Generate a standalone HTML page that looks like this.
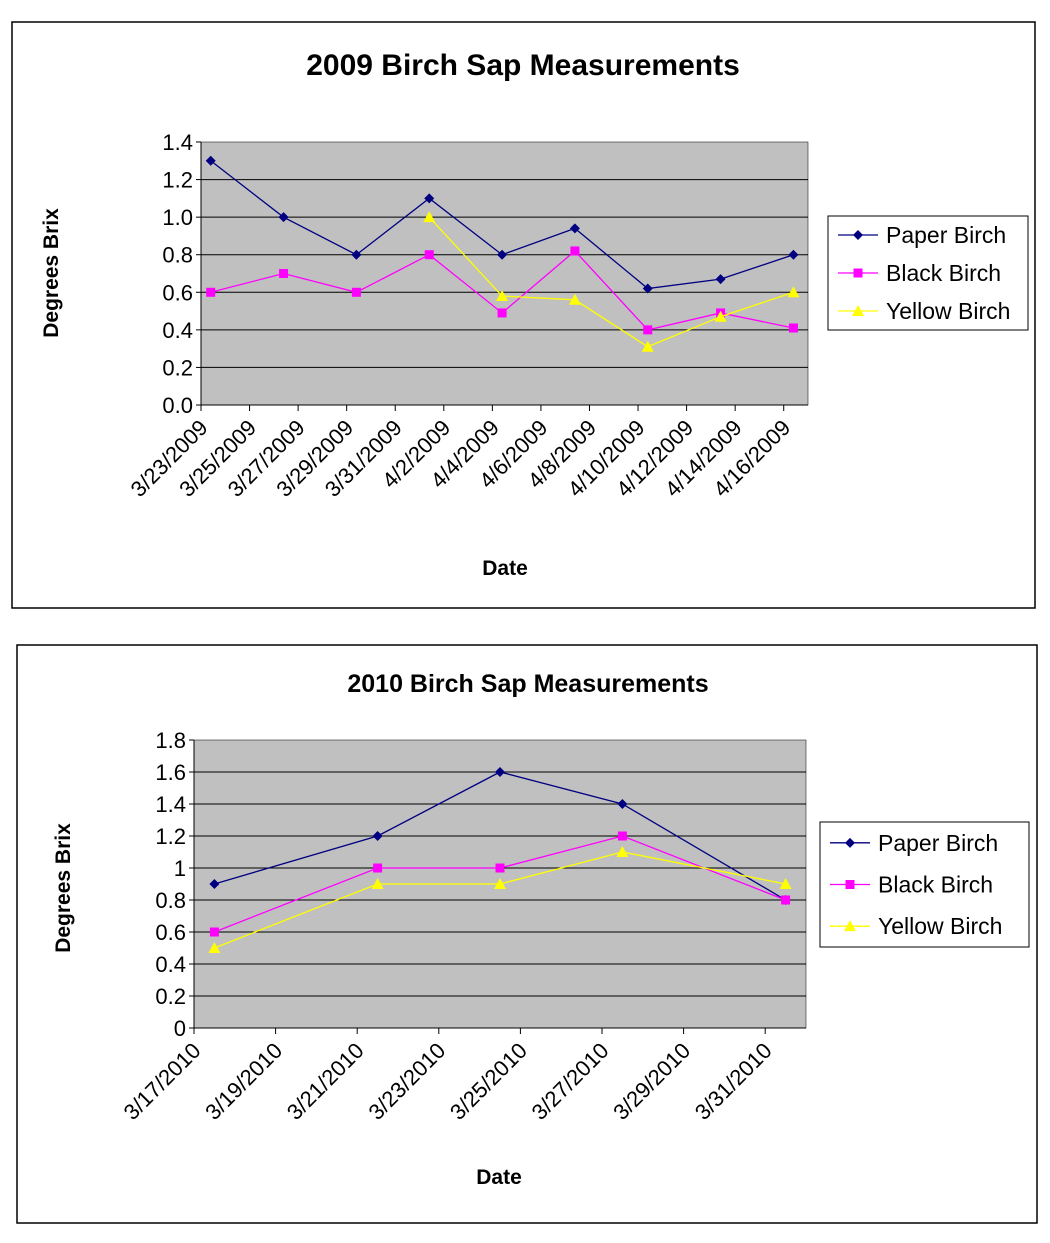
<!DOCTYPE html>
<html><head><meta charset="utf-8"><style>
body{margin:0;background:#fff;font-family:"Liberation Sans",Arial,sans-serif}
svg text{font-family:"Liberation Sans",Arial,sans-serif}
</style></head><body>
<svg id="s" width="1050" height="1238" xmlns="http://www.w3.org/2000/svg"></svg>
<script>
// Chart 1 data (2009)
const c1Labels=["3/23/2009","3/25/2009","3/27/2009","3/29/2009","3/31/2009","4/2/2009","4/4/2009","4/6/2009","4/8/2009","4/10/2009","4/12/2009","4/14/2009","4/16/2009"];
const c1Days=[0.4,3.4,6.4,9.4,12.4,15.4,18.4,21.4,24.4];
const c1Paper=[1.3,1.0,0.8,1.1,0.8,0.94,0.62,0.67,0.8];
const c1Black=[0.6,0.7,0.6,0.8,0.49,0.82,0.4,0.49,0.41];
const c1Yellow=[null,null,null,1.0,0.58,0.56,0.31,0.47,0.6];
const c1Ticks=["0.0","0.2","0.4","0.6","0.8","1.0","1.2","1.4"];
// Chart 2 data (2010)
const c2Labels=["3/17/2010","3/19/2010","3/21/2010","3/23/2010","3/25/2010","3/27/2010","3/29/2010","3/31/2010"];
const c2Days=[0.5,4.5,7.5,10.5,14.5];
const c2Paper=[0.9,1.2,1.6,1.4,0.8];
const c2Black=[0.6,1.0,1.0,1.2,0.8];
const c2Yellow=[0.5,0.9,0.9,1.1,0.9];
const c2Ticks=["0","0.2","0.4","0.6","0.8","1","1.2","1.4","1.6","1.8"];

const S=document.getElementById('s');const NS="http://www.w3.org/2000/svg";
function el(t,a,txt){const e=document.createElementNS(NS,t);for(const k in a)e.setAttribute(k,a[k]);if(txt!==undefined)e.textContent=txt;S.appendChild(e);return e;}

function chart(o){
  const f=el('rect',{x:o.fx,y:o.fy,width:o.fw,height:o.fh,fill:'#fff',stroke:'#000','stroke-width':1.5});
  
  
  const t=el('text',{x:o.tx,y:o.ty,'text-anchor':'middle','font-weight':'bold','font-size':o.tfs},o.title);
  
  
  const p=el('rect',{x:o.px,y:o.py,width:o.pw,height:o.ph,fill:'#c0c0c0',stroke:'#000','stroke-width':0.5});
  
  
  const n=o.ticks.length-1;
  const Y=v=>o.py+o.ph-v/o.ymax*o.ph;
  const X=d=>o.px+d/o.ndays*o.pw;
  o.ticks.forEach((lab,i)=>{const v=i*o.ymax/n;const y=Y(v);
    if(i>0&&i<n){const g=el('line',{x1:o.px,x2:o.px+o.pw,y1:y,y2:y,stroke:'#000'});}
    el('line',{x1:o.px-5,x2:o.px,y1:y,y2:y,stroke:'#000'});
    const tl=el('text',{x:o.px-8,y:y+8,'text-anchor':'end','font-size':22},lab);
    
    
  });
  el('line',{x1:o.px,x2:o.px,y1:o.py,y2:o.py+o.ph,stroke:'#000'});
  el('line',{x1:o.px,x2:o.px+o.pw,y1:o.py+o.ph,y2:o.py+o.ph,stroke:'#000'});
  o.labels.forEach((lab,i)=>{const x=X(i*2);const yb=o.py+o.ph;
    el('line',{x1:x,x2:x,y1:yb,y2:yb+6,stroke:'#000'});
    const ax=x+8,ay=yb+24;
    const tl=el('text',{x:ax,y:ay,'text-anchor':'end','font-size':22,transform:`rotate(-45 ${ax} ${ay})`},lab);
    
    
  });
  const yl=el('text',{x:o.ylx,y:o.yly,'text-anchor':'middle','font-weight':'bold','font-size':21,transform:`rotate(-90 ${o.ylx} ${o.yly})`},'Degrees Brix');
  
  
  const xl=el('text',{x:o.xlx,y:o.xly,'text-anchor':'middle','font-weight':'bold','font-size':21},'Date');
  
  
  const series=[['paper-birch',o.paper,'#000080','d'],['black-birch',o.black,'#ff00ff','s'],['yellow-birch',o.yellow,'#ffff00','t']];
  function marker(x,y,c,k){let m;
    if(k==='d')m=el('polygon',{points:`${x},${y-5} ${x+5},${y} ${x},${y+5} ${x-5},${y}`,fill:c});
    else if(k==='s')m=el('rect',{x:x-4.5,y:y-4.5,width:9,height:9,fill:c});
    else m=el('polygon',{points:`${x},${y-6} ${x+6},${y+5} ${x-6},${y+5}`,fill:c});
    return m;}
  series.forEach(([nm,vals,c,k])=>{
    const pts=[];vals.forEach((v,i)=>{if(v!==null)pts.push([X(o.days[i]),Y(v)]);});
    const pl=el('polyline',{points:pts.map(p=>p.join(',')).join(' '),fill:'none',stroke:c,'stroke-width':1.3});
    
    
    pts.forEach(p=>{const m=marker(p[0],p[1],c,k);
      
      });
  });
  const L=o.leg;
  const lb=el('rect',{x:L.x,y:L.y,width:L.w,height:L.h,fill:'#fff',stroke:'#000'});
  
  
  const names=['Paper Birch','Black Birch','Yellow Birch'];
  series.forEach(([nm,v,c,k],i)=>{const y=L.y+L.h*(i+0.5)/3;
    el('line',{x1:L.x+10,x2:L.x+50,y1:y,y2:y,stroke:c,'stroke-width':1.3});
    marker(L.x+30,y,c,k);
    const lt=el('text',{x:L.x+58,y:y+8,'font-size':23},names[i]);
    
    
  });
}
chart({id:'chart-2009',fx:12,fy:22,fw:1023,fh:586,title:'2009 Birch Sap Measurements',tx:523,ty:75,tfs:30,
  px:201,py:142,pw:607,ph:263,ymax:1.4,ndays:25,ticks:c1Ticks,labels:c1Labels,days:c1Days,
  paper:c1Paper,black:c1Black,yellow:c1Yellow,ylx:58,yly:273,xlx:505,xly:575,leg:{x:828,y:216,w:200,h:114}});
chart({id:'chart-2010',fx:17,fy:645,fw:1020,fh:578,title:'2010 Birch Sap Measurements',tx:528,ty:692,tfs:25,
  px:194,py:740,pw:612,ph:288,ymax:1.8,ndays:15,ticks:c2Ticks,labels:c2Labels,days:c2Days,
  paper:c2Paper,black:c2Black,yellow:c2Yellow,ylx:70,yly:888,xlx:499,xly:1184,leg:{x:820,y:822,w:209,h:125}});
</script>
</body></html>
